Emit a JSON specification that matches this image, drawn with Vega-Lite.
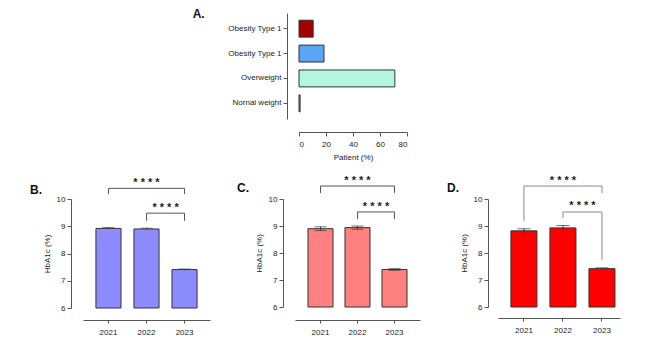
{
  "$schema": "https://vega.github.io/schema/vega-lite/v6.json",
  "background": "white",
  "padding": {"left": 30, "top": 8, "right": 5, "bottom": 5},
  "config": {
    "view": {"stroke": null},
    "font": "Liberation Sans",
    "axis": {"labelFont": "Liberation Sans", "titleFont": "Liberation Sans", "labelFontSize": 8, "titleFontSize": 8, "titleFontWeight": "normal", "domainColor": "#555", "tickColor": "#555", "labelColor": "#222", "titleColor": "#222", "grid": false, "labelOverlap": false},
    "title": {"font": "Liberation Sans", "fontSize": 12, "fontWeight": "bold", "anchor": "start", "offset": 0, "color": "#111", "baseline": "alphabetic", "frame": "bounds"}
  },
  "datasets": {
    "a": [
      {"cat": "Obesity Type 1", "pct": 10.5},
      {"cat": "Obesity Type 1 ", "pct": 18.5},
      {"cat": "Overweight", "pct": 71},
      {"cat": "Nornal weight", "pct": 0.8}
    ],
    "b": [
      {"year": "2021", "mean": 8.92, "lo": 8.89, "hi": 8.95},
      {"year": "2022", "mean": 8.9, "lo": 8.87, "hi": 8.93},
      {"year": "2023", "mean": 7.41, "lo": 7.39, "hi": 7.43}
    ],
    "c": [
      {"year": "2021", "mean": 8.9, "lo": 8.83, "hi": 8.97},
      {"year": "2022", "mean": 8.94, "lo": 8.88, "hi": 9.0},
      {"year": "2023", "mean": 7.39, "lo": 7.36, "hi": 7.42}
    ],
    "d": [
      {"year": "2021", "mean": 8.82, "lo": 8.74, "hi": 8.9},
      {"year": "2022", "mean": 8.93, "lo": 8.84, "hi": 9.02},
      {"year": "2023", "mean": 7.42, "lo": 7.39, "hi": 7.45}
    ],
    "bs": [
      {"x": "2021", "x2": "2023", "y": 10.39, "y2": 10.39},
      {"x": "2021", "x2": "2021", "y": 10.39, "y2": 10.18},
      {"x": "2023", "x2": "2023", "y": 10.39, "y2": 10.18},
      {"x": "2022", "x2": "2023", "y": 9.48, "y2": 9.48},
      {"x": "2022", "x2": "2022", "y": 9.48, "y2": 9.2},
      {"x": "2023", "x2": "2023", "y": 9.48, "y2": 9.2}
    ],
    "cs": [
      {"x": "2021", "x2": "2023", "y": 10.48, "y2": 10.48},
      {"x": "2021", "x2": "2021", "y": 10.48, "y2": 10.22},
      {"x": "2023", "x2": "2023", "y": 10.48, "y2": 10.22},
      {"x": "2022", "x2": "2023", "y": 9.52, "y2": 9.52},
      {"x": "2022", "x2": "2022", "y": 9.52, "y2": 9.26},
      {"x": "2023", "x2": "2023", "y": 9.52, "y2": 9.26}
    ],
    "ds": [
      {"x": "2021", "x2": "2023", "y": 10.48, "y2": 10.48},
      {"x": "2021", "x2": "2021", "y": 10.48, "y2": 9.19},
      {"x": "2023", "x2": "2023", "y": 10.48, "y2": 10.22},
      {"x": "2022", "x2": "2023", "y": 9.52, "y2": 9.52},
      {"x": "2022", "x2": "2022", "y": 9.52, "y2": 9.3},
      {"x": "2023", "x2": "2023", "y": 9.52, "y2": 7.74}
    ],
    "bt": [
      {"x": "2022", "y": 10.48, "label": "* * * *", "k": "top"},
      {"x": "2022", "y": 9.56, "label": "* * * *", "k": "in"}
    ],
    "ct": [
      {"x": "2022", "y": 10.56, "label": "* * * *", "k": "top"},
      {"x": "2022", "y": 9.59, "label": "* * * *", "k": "in"}
    ],
    "dt": [
      {"x": "2022", "y": 10.56, "label": "* * * *", "k": "top"},
      {"x": "2022", "y": 9.63, "label": "* * * *", "k": "in"}
    ]
  },
  "vconcat": [
    {
      "spacing": 0,
      "hconcat": [
        {
          "width": 109, "height": 10,
          "data": {"values": [{}]},
          "mark": {"type": "point", "opacity": 0}
        },
        {
          "width": 108, "height": 106,
          "title": {"text": "A.", "dx": -35, "dy": 12},
          "data": {"name": "a"},
          "mark": {"type": "bar", "stroke": "#333", "strokeWidth": 1},
          "encoding": {
            "y": {"field": "cat", "type": "nominal", "sort": null, "scale": {"paddingInner": 0.32, "paddingOuter": 0.29}, "axis": {"title": null, "offset": 12, "tickSize": 4, "labelPadding": 2}},
            "x": {"field": "pct", "type": "quantitative", "scale": {"domain": [0, 80], "nice": false}, "axis": {"values": [0, 20, 40, 60, 80], "offset": 13, "tickSize": 4, "labelPadding": 4, "title": "Patient (%)", "titlePadding": 5}},
            "color": {"field": "cat", "type": "nominal", "scale": {"domain": ["Obesity Type 1", "Obesity Type 1 ", "Overweight", "Nornal weight"], "range": ["#A50000", "#5AA5F5", "#B4F5E1", "#888888"]}, "legend": null}
          }
        }
      ]
    },
    {
      "spacing": 27,
      "hconcat": [
        {
          "width": 127, "height": 109,
          "title": {"text": "B.", "dx": -13, "dy": 24},
          "encoding": {
            "x": {"field": "year", "type": "ordinal", "scale": {"domain": ["2021", "2022", "2023"], "paddingInner": 0.34, "paddingOuter": 0.34}, "axis": {"title": null, "offset": 12, "tickSize": 3, "labelPadding": 5, "labelAngle": 0}}
          },
          "layer": [
            {"data": {"name": "b"}, "mark": {"type": "bar", "fill": "#8C8CFF", "stroke": "#333", "strokeWidth": 1},
             "encoding": {"y": {"field": "mean", "type": "quantitative", "scale": {"domain": [6, 10], "nice": false, "zero": false}, "axis": {"values": [6, 7, 8, 9, 10], "offset": 12, "tickSize": 4, "labelPadding": 2, "title": "HbA1c (%)", "titlePadding": 5}}, "y2": {"datum": 6}}},
            {"data": {"name": "b"}, "mark": {"type": "rule", "color": "#333"}, "encoding": {"y": {"field": "lo", "type": "quantitative", "axis": {"values": [6, 7, 8, 9, 10], "offset": 12, "tickSize": 4, "labelPadding": 2, "title": "HbA1c (%)", "titlePadding": 5}}, "y2": {"field": "hi"}}},
            {"data": {"name": "b"}, "mark": {"type": "tick", "color": "#333", "size": 12, "thickness": 1}, "encoding": {"y": {"field": "hi", "type": "quantitative", "axis": {"values": [6, 7, 8, 9, 10], "offset": 12, "tickSize": 4, "labelPadding": 2, "title": "HbA1c (%)", "titlePadding": 5}}}},
            {"data": {"name": "bs"}, "mark": {"type": "rule", "color": "#555", "strokeWidth": 1},
             "encoding": {"x": {"field": "x", "type": "ordinal"}, "x2": {"field": "x2"}, "y": {"field": "y", "type": "quantitative", "axis": {"values": [6, 7, 8, 9, 10], "offset": 12, "tickSize": 4, "labelPadding": 2, "title": "HbA1c (%)", "titlePadding": 5}}, "y2": {"field": "y2"}}},
            {"data": {"name": "bt"}, "transform": [{"filter": "datum.k == 'top'"}], "mark": {"type": "text", "fontSize": 11, "fontWeight": "bold", "baseline": "alphabetic", "color": "#222"},
             "encoding": {"x": {"field": "x", "type": "ordinal"}, "y": {"field": "y", "type": "quantitative", "axis": {"values": [6, 7, 8, 9, 10], "offset": 12, "tickSize": 4, "labelPadding": 2, "title": "HbA1c (%)", "titlePadding": 5}}, "text": {"field": "label"}}},
            {"data": {"name": "bt"}, "transform": [{"filter": "datum.k == 'in'"}], "mark": {"type": "text", "fontSize": 11, "fontWeight": "bold", "baseline": "alphabetic", "color": "#222"},
             "encoding": {"x": {"field": "x", "type": "ordinal", "bandPosition": 1.26}, "y": {"field": "y", "type": "quantitative", "axis": {"values": [6, 7, 8, 9, 10], "offset": 12, "tickSize": 4, "labelPadding": 2, "title": "HbA1c (%)", "titlePadding": 5}}, "text": {"field": "label"}}}
          ]
        },
        {
          "width": 125, "height": 108,
          "title": {"text": "C.", "dx": -18, "dy": 24},
          "encoding": {
            "x": {"field": "year", "type": "ordinal", "scale": {"domain": ["2021", "2022", "2023"], "paddingInner": 0.324, "paddingOuter": 0.351}, "axis": {"title": null, "offset": 13, "tickSize": 3, "labelPadding": 5, "labelAngle": 0}}
          },
          "layer": [
            {"data": {"name": "c"}, "mark": {"type": "bar", "fill": "#FF8080", "stroke": "#333", "strokeWidth": 1},
             "encoding": {"y": {"field": "mean", "type": "quantitative", "scale": {"domain": [6, 10], "nice": false, "zero": false}, "axis": {"values": [6, 7, 8, 9, 10], "offset": 12, "tickSize": 4, "labelPadding": 2, "title": "HbA1c (%)", "titlePadding": 5}}, "y2": {"datum": 6}}},
            {"data": {"name": "c"}, "mark": {"type": "rule", "color": "#333"}, "encoding": {"y": {"field": "lo", "type": "quantitative", "axis": {"values": [6, 7, 8, 9, 10], "offset": 12, "tickSize": 4, "labelPadding": 2, "title": "HbA1c (%)", "titlePadding": 5}}, "y2": {"field": "hi"}}},
            {"data": {"name": "c"}, "mark": {"type": "tick", "color": "#333", "size": 12, "thickness": 1}, "encoding": {"y": {"field": "hi", "type": "quantitative", "axis": {"values": [6, 7, 8, 9, 10], "offset": 12, "tickSize": 4, "labelPadding": 2, "title": "HbA1c (%)", "titlePadding": 5}}}},
            {"data": {"name": "c"}, "mark": {"type": "tick", "color": "#333", "size": 12, "thickness": 1}, "encoding": {"y": {"field": "lo", "type": "quantitative", "axis": {"values": [6, 7, 8, 9, 10], "offset": 12, "tickSize": 4, "labelPadding": 2, "title": "HbA1c (%)", "titlePadding": 5}}}},
            {"data": {"name": "cs"}, "mark": {"type": "rule", "color": "#555", "strokeWidth": 1},
             "encoding": {"x": {"field": "x", "type": "ordinal"}, "x2": {"field": "x2"}, "y": {"field": "y", "type": "quantitative", "axis": {"values": [6, 7, 8, 9, 10], "offset": 12, "tickSize": 4, "labelPadding": 2, "title": "HbA1c (%)", "titlePadding": 5}}, "y2": {"field": "y2"}}},
            {"data": {"name": "ct"}, "transform": [{"filter": "datum.k == 'top'"}], "mark": {"type": "text", "fontSize": 11, "fontWeight": "bold", "baseline": "alphabetic", "color": "#222"},
             "encoding": {"x": {"field": "x", "type": "ordinal"}, "y": {"field": "y", "type": "quantitative", "axis": {"values": [6, 7, 8, 9, 10], "offset": 12, "tickSize": 4, "labelPadding": 2, "title": "HbA1c (%)", "titlePadding": 5}}, "text": {"field": "label"}}},
            {"data": {"name": "ct"}, "transform": [{"filter": "datum.k == 'in'"}], "mark": {"type": "text", "fontSize": 11, "fontWeight": "bold", "baseline": "alphabetic", "color": "#222"},
             "encoding": {"x": {"field": "x", "type": "ordinal", "bandPosition": 1.24}, "y": {"field": "y", "type": "quantitative", "axis": {"values": [6, 7, 8, 9, 10], "offset": 12, "tickSize": 4, "labelPadding": 2, "title": "HbA1c (%)", "titlePadding": 5}}, "text": {"field": "label"}}}
          ]
        },
        {
          "width": 122, "height": 108,
          "title": {"text": "D.", "dx": -13, "dy": 24},
          "encoding": {
            "x": {"field": "year", "type": "ordinal", "scale": {"domain": ["2021", "2022", "2023"], "paddingInner": 0.333, "paddingOuter": 0.23, "align": 0.72}, "axis": {"title": null, "offset": 11, "tickSize": 3, "labelPadding": 5, "labelAngle": 0}}
          },
          "layer": [
            {"data": {"name": "d"}, "mark": {"type": "bar", "fill": "#FF0000", "stroke": "#333", "strokeWidth": 1},
             "encoding": {"y": {"field": "mean", "type": "quantitative", "scale": {"domain": [6, 10], "nice": false, "zero": false}, "axis": {"values": [6, 7, 8, 9, 10], "offset": 10, "tickSize": 4, "labelPadding": 2, "title": "HbA1c (%)", "titlePadding": 5}}, "y2": {"datum": 6}}},
            {"data": {"name": "d"}, "mark": {"type": "rule", "color": "#333"}, "encoding": {"y": {"field": "lo", "type": "quantitative", "axis": {"values": [6, 7, 8, 9, 10], "offset": 10, "tickSize": 4, "labelPadding": 2, "title": "HbA1c (%)", "titlePadding": 5}}, "y2": {"field": "hi"}}},
            {"data": {"name": "d"}, "mark": {"type": "tick", "color": "#333", "size": 13, "thickness": 1}, "encoding": {"y": {"field": "hi", "type": "quantitative", "axis": {"values": [6, 7, 8, 9, 10], "offset": 10, "tickSize": 4, "labelPadding": 2, "title": "HbA1c (%)", "titlePadding": 5}}}},
            {"data": {"name": "ds"}, "mark": {"type": "rule", "color": "#888", "strokeWidth": 1},
             "encoding": {"x": {"field": "x", "type": "ordinal"}, "x2": {"field": "x2"}, "y": {"field": "y", "type": "quantitative", "axis": {"values": [6, 7, 8, 9, 10], "offset": 10, "tickSize": 4, "labelPadding": 2, "title": "HbA1c (%)", "titlePadding": 5}}, "y2": {"field": "y2"}}},
            {"data": {"name": "dt"}, "transform": [{"filter": "datum.k == 'top'"}], "mark": {"type": "text", "fontSize": 11, "fontWeight": "bold", "baseline": "alphabetic", "color": "#222"},
             "encoding": {"x": {"field": "x", "type": "ordinal"}, "y": {"field": "y", "type": "quantitative", "axis": {"values": [6, 7, 8, 9, 10], "offset": 10, "tickSize": 4, "labelPadding": 2, "title": "HbA1c (%)", "titlePadding": 5}}, "text": {"field": "label"}}},
            {"data": {"name": "dt"}, "transform": [{"filter": "datum.k == 'in'"}], "mark": {"type": "text", "fontSize": 11, "fontWeight": "bold", "baseline": "alphabetic", "color": "#222"},
             "encoding": {"x": {"field": "x", "type": "ordinal", "bandPosition": 1.25}, "y": {"field": "y", "type": "quantitative", "axis": {"values": [6, 7, 8, 9, 10], "offset": 10, "tickSize": 4, "labelPadding": 2, "title": "HbA1c (%)", "titlePadding": 5}}, "text": {"field": "label"}}}
          ]
        }
      ]
    }
  ],
  "spacing": 13
}
